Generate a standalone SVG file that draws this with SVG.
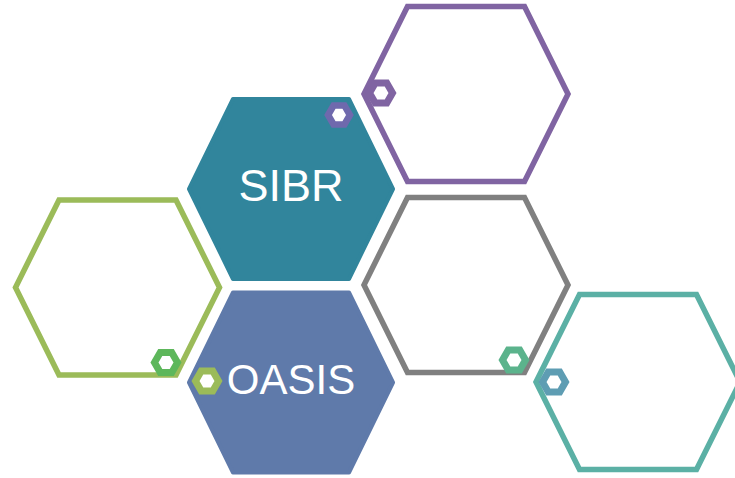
<svg xmlns="http://www.w3.org/2000/svg" xmlns:xlink="http://www.w3.org/1999/xlink" width="735" height="478" viewBox="0 0 735 478">
  <defs>
    <!-- large flat-top hexagon outline, centred on the origin -->
    <path id="hex-outline" d="M -102,0 L -58.5,-87.5 L 58.5,-87.5 L 102,0 L 58.5,87.5 L -58.5,87.5 Z"/>
    <!-- large filled hexagon -->
    <path id="hex-fill" d="M -102,0 L -58,-90 L 58,-90 L 102,0 L 58,90 L -58,90 Z"/>
    <!-- small ring hexagon -->
    <path id="hex-small" d="M -11.5,0 L -5.75,-10 L 5.75,-10 L 11.5,0 L 5.75,10 L -5.75,10 Z"/>
  </defs>
  <style>
    .outline { fill: none; stroke-width: 5.5; stroke-linejoin: miter; }
    .filled { stroke-width: 4; stroke-linejoin: round; }
    .ring { fill: #ffffff; stroke-width: 7; stroke-linejoin: miter; }
    .label { font-family: "Liberation Sans", Arial, sans-serif; fill: #ffffff; text-anchor: middle; }
  </style>

  <rect width="735" height="478" fill="#ffffff"/>

  <g id="hex-purple">
    <use xlink:href="#hex-outline" class="outline" stroke="#8064A2" transform="translate(466,94)"/>
  </g>
  <g id="hex-gray">
    <use xlink:href="#hex-outline" class="outline" stroke="#808080" transform="translate(466,285)"/>
  </g>
  <g id="hex-green">
    <use xlink:href="#hex-outline" class="outline" stroke="#9BBB59" transform="translate(117.5,287.5)"/>
  </g>
  <g id="hex-teal">
    <use xlink:href="#hex-outline" class="outline" stroke="#5BB0A5" transform="translate(638,382)"/>
  </g>

  <g id="sibr">
    <use xlink:href="#hex-fill" class="filled" fill="#31859C" stroke="#31859C" transform="translate(291,189)"/>
    <text class="label" x="291" y="201" font-size="45">SIBR</text>
  </g>
  <g id="oasis">
    <use xlink:href="#hex-fill" class="filled" fill="#5F7AAA" stroke="#5F7AAA" transform="translate(291,382.5)"/>
    <text class="label" x="291" y="394" font-size="42">OASIS</text>
  </g>

  <g id="connectors">
    <!-- small ring hexagons sitting on the large shapes -->
    <use xlink:href="#hex-small" class="ring" stroke="#6F69AD" stroke-width="6" transform="translate(339,115) scale(0.95)"/>
    <use xlink:href="#hex-small" class="ring" stroke="#8064A2" stroke-width="6" transform="translate(381,93)"/>
    <use xlink:href="#hex-small" class="ring" stroke="#5DB75B" transform="translate(166,362.5)"/>
    <use xlink:href="#hex-small" class="ring" stroke="#9BBB59" transform="translate(207,381)"/>
    <use xlink:href="#hex-small" class="ring" stroke="#5BB38C" transform="translate(514,360)"/>
    <use xlink:href="#hex-small" class="ring" stroke="#5E9DB3" transform="translate(554,382)"/>
  </g>
</svg>
